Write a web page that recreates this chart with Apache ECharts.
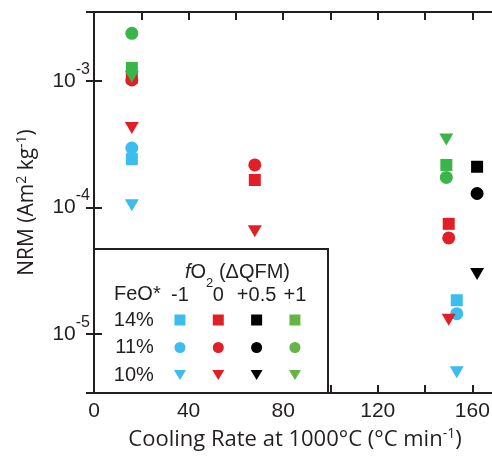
<!DOCTYPE html>
<html>
<head>
<meta charset="utf-8">
<script src="https://cdn.jsdelivr.net/npm/echarts@6/dist/echarts.min.js"></script>
<style>
  html, body { margin: 0; padding: 0; background: #ffffff; }
  #chart { width: 492px; height: 457px; }
</style>
</head>
<body>
<div id="chart"></div>
<script>
// Legend / grouping categories
const fo2Levels = ['-1', '0', '+0.5', '+1'];          // fO2 relative to QFM buffer
const feoLevels = ['14%', '11%', '10%'];              // FeO* content
const fo2Colors = ['#3dbdee', '#e21f26', '#000000', '#39b54a'];
const fo2LegendColors = ['#3dbdee', '#e21f26', '#000000', '#64b446'];
const feoSymbols = ['rect', 'circle', 'triangle'];

// Axis tick labels
const xTickLabels = [0, 40, 80, 120, 160];
const yTickExponents = [-5, -4, -3];

// NRM (Am2 kg-1) against cooling rate at 1000 °C (°C min-1)
// ΔQFM -1
const qfmM1Feo14 = [[16, 2.41e-4], [153.4, 1.85e-5]];
const qfmM1Feo11 = [[16, 2.95e-4], [153.4, 1.45e-5]];
const qfmM1Feo10 = [[16, 1.04e-4], [153.4, 5.0e-6]];
// ΔQFM 0
const qfm0Feo14 = [[16, 1.06e-3], [68, 1.65e-4], [150, 7.43e-5]];
const qfm0Feo11 = [[16, 1.02e-3], [68, 2.17e-4], [150, 5.75e-5]];
const qfm0Feo10 = [[16, 4.25e-4], [68, 6.5e-5], [150, 1.30e-5]];
// ΔQFM +0.5
const qfmP05Feo14 = [[162, 2.10e-4]];
const qfmP05Feo11 = [[162, 1.29e-4]];
const qfmP05Feo10 = [[162, 2.98e-5]];
// ΔQFM +1
const qfmP1Feo14 = [[16, 1.27e-3], [149, 2.17e-4]];
const qfmP1Feo11 = [[16, 2.38e-3], [149, 1.73e-4]];
const qfmP1Feo10 = [[16, 1.08e-3], [149, 3.45e-4]];

const nrmData = [
  [qfmM1Feo14, qfmM1Feo11, qfmM1Feo10],
  [qfm0Feo14, qfm0Feo11, qfm0Feo10],
  [qfmP05Feo14, qfmP05Feo11, qfmP05Feo10],
  [qfmP1Feo14, qfmP1Feo11, qfmP1Feo10]
];

const INK = '#231f20';
const TICK_FONT = '"Liberation Sans", Arial, sans-serif';
const TITLE_FONT = '"Open Sans", sans-serif';

const markSize = { rect: 12, circle: 13, triangle: [14, 12] };
const swatchSize = { rect: 11, circle: 11, triangle: [12, 10] };

const series = [];
fo2Levels.forEach((fo2, i) => {
  feoLevels.forEach((feo, j) => {
    const sym = feoSymbols[j];
    // data marks
    series.push({
      type: 'scatter',
      name: fo2 + ' / ' + feo,
      xAxisIndex: 0,
      yAxisIndex: 0,
      data: nrmData[i][j],
      symbol: sym,
      symbolSize: markSize[sym],
      symbolRotate: sym === 'triangle' ? 180 : 0,
      itemStyle: { color: fo2Colors[i], opacity: 1 },
      z: 2 + i,
      silent: true
    });
    // key swatch
    series.push({
      type: 'scatter',
      xAxisIndex: 2,
      yAxisIndex: 2,
      data: [[fo2, feo]],
      symbol: sym,
      symbolSize: swatchSize[sym],
      symbolRotate: sym === 'triangle' ? 180 : 0,
      itemStyle: { color: fo2LegendColors[i], opacity: 1 },
      z: 14,
      silent: true
    });
  });
});

const axisLineStyle = { color: INK, width: 2 };
const tickStyle = { show: true, inside: true, length: 8, lineStyle: { color: INK, width: 2 } };

const yLabelFormatter = (v) => {
  const e = Math.log10(v);
  const r = Math.round(e);
  if (Math.abs(e - r) > 1e-6 || !yTickExponents.includes(r)) return '';
  return '{b|10}{s|' + r + '}';
};

const makeTitleRich = (size) => ({
  t: { fontFamily: TITLE_FONT, fontSize: size, color: INK, lineHeight: size + 3 },
  sup: { fontFamily: TITLE_FONT, fontSize: Math.round(size * 0.65), color: INK, lineHeight: Math.round(size * 0.65), verticalAlign: 'top' }
});

const chart = echarts.init(document.getElementById('chart'), null, { renderer: 'canvas' });
chart.setOption({
  animation: false,
  backgroundColor: '#ffffff',
  grid: [
    { left: 94, top: 12, width: 402, height: 381, containLabel: false, outerBoundsMode: 'none' },
    { left: 160.8, top: 306.25, width: 153.3, height: 82.5, containLabel: false, outerBoundsMode: 'none' }
  ],
  xAxis: [
    {
      type: 'value', gridIndex: 0, position: 'bottom',
      min: 0, max: 170, interval: 20,
      axisLine: { show: true, lineStyle: axisLineStyle },
      axisTick: tickStyle,
      splitLine: { show: false },
      axisLabel: {
        margin: 8, fontSize: 21, fontFamily: TICK_FONT, color: INK,
        showMaxLabel: false,
        formatter: (v) => xTickLabels.includes(v) ? String(v) : ''
      },
      name: '{t|Cooling Rate at 1000°C (°C min}{sup|-1}{t|)}',
      nameLocation: 'middle',
      nameGap: 34,
      nameTextStyle: { rich: makeTitleRich(22) },
      z: 0
    },
    {
      type: 'value', gridIndex: 0, position: 'top',
      min: 0, max: 170, interval: 20,
      axisLine: { show: true, lineStyle: axisLineStyle },
      axisTick: tickStyle,
      splitLine: { show: false },
      axisLabel: { show: false },
      z: 0
    },
    {
      type: 'category', gridIndex: 1, position: 'top',
      data: fo2Levels,
      boundaryGap: true,
      axisLine: { show: false },
      axisTick: { show: false },
      splitLine: { show: false },
      axisLabel: { margin: 1, fontSize: 20, fontFamily: TICK_FONT, color: INK, interval: 0 },
      z: 14
    }
  ],
  yAxis: [
    {
      type: 'log', logBase: 10, gridIndex: 0, position: 'left',
      min: 3.42e-6, max: 3.51e-3,
      axisLine: { show: true, lineStyle: axisLineStyle },
      axisTick: tickStyle,
      minorTick: { show: false },
      splitLine: { show: false },
      axisLabel: {
        margin: 4, color: INK,
        showMinLabel: false, showMaxLabel: false,
        formatter: yLabelFormatter,
        rich: {
          b: { fontSize: 21, fontFamily: TICK_FONT, color: INK, lineHeight: 21, verticalAlign: 'bottom' },
          s: { fontSize: 16, fontFamily: TICK_FONT, color: INK, lineHeight: 16, verticalAlign: 'bottom', padding: [0, 0, 14, 0] }
        }
      },
      name: '{t|NRM (Am}{sup|2}{t| kg}{sup|-1}{t|)}',
      nameLocation: 'middle',
      nameGap: 55,
      nameTextStyle: { rich: makeTitleRich(21) },
      z: 12
    },
    {
      type: 'log', logBase: 10, gridIndex: 0, position: 'right',
      min: 3.42e-6, max: 3.51e-3,
      axisLine: { show: true, lineStyle: axisLineStyle },
      axisTick: tickStyle,
      minorTick: { show: false },
      splitLine: { show: false },
      axisLabel: { show: false },
      z: 0
    },
    {
      type: 'category', gridIndex: 1, position: 'left',
      data: feoLevels,
      inverse: true,
      boundaryGap: true,
      axisLine: { show: false },
      axisTick: { show: false },
      splitLine: { show: false },
      axisLabel: { margin: 7, fontSize: 20, fontFamily: TICK_FONT, color: INK, interval: 0 },
      z: 14
    }
  ],
  graphic: [
    {
      type: 'rect', z: 10, silent: true,
      shape: { x: 94, y: 249, width: 234, height: 144 },
      style: { fill: '#ffffff', stroke: INK, lineWidth: 2 }
    },
    {
      type: 'text', z: 14, silent: true, x: 185, y: 272,
      style: {
        text: '{i|f}{t|O}{sub|2}{t| (ΔQFM)}',
        align: 'left', verticalAlign: 'middle',
        rich: {
          i: { fontFamily: TICK_FONT, fontSize: 20, fontStyle: 'italic', fill: INK, lineHeight: 20 },
          t: { fontFamily: TICK_FONT, fontSize: 20, fill: INK, lineHeight: 20 },
          sub: { fontFamily: TICK_FONT, fontSize: 13, fill: INK, lineHeight: 13, verticalAlign: 'top', padding: [15, 0, 0, 0] }
        }
      }
    },
    {
      type: 'text', z: 14, silent: true, x: 114, y: 294.5,
      style: {
        text: 'FeO*', align: 'left', verticalAlign: 'middle',
        fontFamily: TICK_FONT, fontSize: 20, fill: INK
      }
    }
  ],
  series: series
});
</script>
</body>
</html>
